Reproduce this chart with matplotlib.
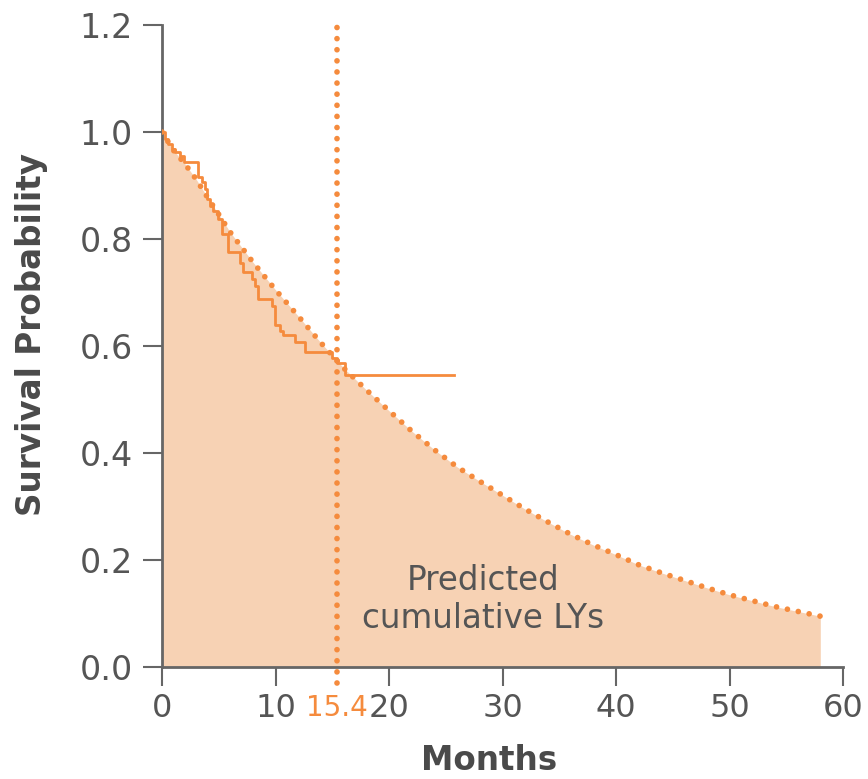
import matplotlib
matplotlib.use("Agg")
import matplotlib.pyplot as plt

# ---- data ----
fit_months = [0, 1, 2, 3, 4, 5, 6, 7, 8, 9, 10, 12, 14, 16, 18, 20, 22, 24, 26, 28,
              30, 32, 34, 36, 38, 40, 42, 44, 46, 48, 50, 52, 54, 56, 58]
fit_surv = [1.0, 0.966, 0.941, 0.912, 0.878, 0.846, 0.813, 0.785, 0.757, 0.731, 0.705,
            0.656, 0.606, 0.559, 0.518, 0.479, 0.441, 0.406, 0.374, 0.347,
            0.321, 0.295, 0.271, 0.248, 0.228, 0.210, 0.191, 0.176, 0.162, 0.148,
            0.135, 0.124, 0.113, 0.104, 0.095]

km_months = [0, 0.25, 0.55, 0.85, 1.15, 1.6, 1.9, 3.2, 3.5, 3.8, 3.95, 4.25, 4.5, 4.95,
             5.25, 5.85, 6.85, 7.15, 7.9, 8.2, 8.5, 9.65, 9.95, 10.4, 10.7, 11.7, 12.6,
             15.0, 15.4, 16.1, 25.7]
km_surv = [1.0, 0.987, 0.978, 0.968, 0.962, 0.956, 0.943, 0.915, 0.906, 0.893, 0.874,
           0.862, 0.853, 0.837, 0.809, 0.775, 0.756, 0.738, 0.725, 0.712, 0.687, 0.675,
           0.640, 0.628, 0.620, 0.608, 0.588, 0.577, 0.568, 0.545, 0.545]

median_month = 15.4
x_ticks = [0, 10, 20, 30, 40, 50, 60]
y_ticks = [0.0, 0.2, 0.4, 0.6, 0.8, 1.0, 1.2]
annotation = "Predicted\ncumulative LYs"

# ---- style ----
ORANGE = "#F58B3D"
FILL = "#F7D2B4"
GRAY = "#555555"
SPINE = "#666666"

plt.rcParams['font.family'] = ['DejaVu Sans']

fig = plt.figure(figsize=(8.68, 7.79), dpi=100)
ax = fig.add_axes([162/868, 1-667/779, (843-162)/868, (667-25)/779])

DOTS = (0, (0.001, 1.95))
ax.fill_between(fit_months, fit_surv, 0, color=FILL, linewidth=0, zorder=1)
ax.plot(fit_months, fit_surv, color=ORANGE, lw=4.1, linestyle=DOTS,
        dash_capstyle='round', zorder=3)
ax.step(km_months, km_surv, where='post', color=ORANGE, lw=2.0, zorder=4)
ax.plot([median_month, median_month], [-0.03, 1.205], color=ORANGE, lw=4.1,
        linestyle=DOTS, dash_capstyle='round', clip_on=False, zorder=3)

ax.text(28.3, 0.126, annotation, ha='center', va='center', fontsize=23.5, color=GRAY,
        linespacing=1.2, zorder=5)

ax.set_xlim(0, 60)
ax.set_ylim(0, 1.2)
ax.set_xticks(x_ticks)
ax.set_xticklabels([str(v) for v in x_ticks])
ax.set_yticks(y_ticks)
ax.set_yticklabels([f"{v:.1f}" for v in y_ticks])
ax.set_xticks([median_month], minor=True)
ax.set_xticklabels([f"{median_month}"], minor=True)

for s in ['top', 'right']:
    ax.spines[s].set_visible(False)
for s in ['left', 'bottom']:
    ax.spines[s].set_color(SPINE)
    ax.spines[s].set_linewidth(2)

ax.tick_params(axis='both', which='major', direction='out', length=14, width=1.5,
               color=SPINE, labelsize=24, labelcolor=GRAY)
ax.tick_params(axis='x', which='major', pad=5, labelsize=23)
ax.tick_params(axis='y', which='major', pad=7)
ax.tick_params(axis='x', which='minor', length=0, pad=19.5, labelsize=20,
               labelcolor=ORANGE)

ax.set_xlabel("Months", fontsize=23.5, fontweight='bold', color="#4a4a4a")
ax.set_ylabel("Survival Probability", fontsize=23.5, fontweight='bold', color="#4a4a4a")
ax.xaxis.set_label_coords((489-162)/(843-162), (667-760)/(667-25))
ax.yaxis.set_label_coords((32-162)/(843-162), (667-335)/(667-25))
ax.xaxis.label.set_va('center')
ax.yaxis.label.set_va('center')

fig.savefig("out.png", dpi=100)
